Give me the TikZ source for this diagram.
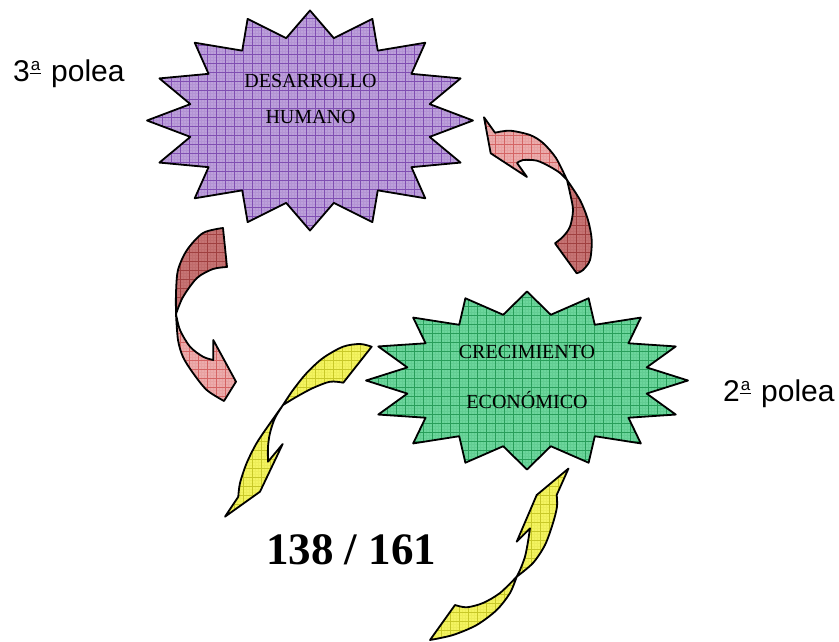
\documentclass[tikz,border=0pt]{standalone}
\usepackage{fontspec}
\setmainfont{Liberation Serif}
\newfontfamily\arialf{Liberation Sans}
\newcommand\ordfem{\makebox[13pt][l]{\raisebox{7.5pt}{\rule{11.5pt}{1.6pt}}\hspace{-11.5pt}\raisebox{10.8pt}{\fontsize{17}{17}\selectfont\makebox[11.5pt]{a}}}}
\definecolor{purplefill}{RGB}{188,160,218}
\definecolor{purplegrid}{RGB}{128,78,178}
\definecolor{greenfill}{RGB}{108,214,156}
\definecolor{greengrid}{RGB}{40,158,90}
\definecolor{yellowfill}{RGB}{244,244,96}
\definecolor{yellowgrid}{RGB}{200,200,40}
\definecolor{reddark}{RGB}{198,116,116}
\definecolor{reddarkgrid}{RGB}{160,64,64}
\definecolor{redlight}{RGB}{236,172,172}
\definecolor{redlightgrid}{RGB}{212,100,100}
\tikzset{
  outline/.style={draw=black, line width=1.8pt, line join=round},
  gridfill/.style 2 args={fill=#1, path picture={
    \draw[#2, line width=0.55pt, step=9pt]
      ([shift={(-9pt,-9pt)}]path picture bounding box.south west) grid
      ([shift={(9pt,9pt)}]path picture bounding box.north east);
    \draw[#2, line width=0.3pt, opacity=0.15, step=3pt]
      ([shift={(-9pt,-9pt)}]path picture bounding box.south west) grid
      ([shift={(9pt,9pt)}]path picture bounding box.north east);
  }},
  startext/.style={font=\fontsize{20}{24}\selectfont, inner sep=0pt, anchor=base},
  polea/.style={font=\arialf\fontsize{30}{34}\selectfont, inner sep=0pt, anchor=base west},
}
\begin{document}
\begin{tikzpicture}[x=1pt,y=-1pt]
\useasboundingbox (0,0) rectangle (839,642);

% Purple star (DESARROLLO HUMANO)
\draw[outline, gridfill={purplefill}{purplegrid}]
  ({310+163*cos(90)},{120.5-110*sin(90)})
  \foreach \i in {0,...,15}{
    -- ({310+122*cos(90-\i*22.5-11.25)},{120.5-84*sin(90-\i*22.5-11.25)})
    -- ({310+163*cos(90-(\i+1)*22.5)},{120.5-110*sin(90-(\i+1)*22.5)})
  } -- cycle;

% Green star (CRECIMIENTO ECONOMICO)
\draw[outline, gridfill={greenfill}{greengrid}]
  ({527+161*cos(90)},{380.5-89*sin(90)})
  \foreach \i in {0,...,15}{
    -- ({527+122*cos(90-\i*22.5-11.25)},{380.5-67*sin(90-\i*22.5-11.25)})
    -- ({527+161*cos(90-(\i+1)*22.5)},{380.5-89*sin(90-(\i+1)*22.5)})
  } -- cycle;

% Left red arrow: back (dark) part
\draw[outline, gridfill={reddark}{reddarkgrid}]
  (223,228) -- plot[smooth] coordinates {(223,228) (203,233) (187,250) (178,270) (176,293) (176,314)}
  -- plot[smooth] coordinates {(176,314) (183,297) (197,278) (213,269) (227,267)}
  -- cycle;
% Left red arrow: front (light) part with head
\draw[outline, gridfill={redlight}{redlightgrid}]
  (176,314) -- plot[smooth] coordinates {(176,314) (180,330) (190,346.7) (203,356.7) (213.3,360)}
  -- (213.3,340) -- (236,381.7) -- (224,401)
  -- plot[smooth] coordinates {(224,401) (206.7,390) (193,373) (183,357) (178,340) (176,314)}
  -- cycle;

% Right red arrow: back (dark) part
\draw[outline, gridfill={reddark}{reddarkgrid}]
  (567,180) -- plot[smooth] coordinates {(567,180) (580,200) (588,220) (591.7,240) (590,260) (583,270) (576.7,273.3)}
  -- (555,243.3)
  -- plot[smooth] coordinates {(555,243.3) (563,236.7) (570,226.7) (573,210) (570,193) (567,180)}
  -- cycle;
% Right red arrow: front (light) part with head
\draw[outline, gridfill={redlight}{redlightgrid}]
  (567,180) -- plot[smooth] coordinates {(567,180) (560,173) (550,166.7) (537,160.7) (523,160) (517,163)}
  -- (527,177) -- (490.7,153.3) -- (484,117.3) -- (495,132.7)
  -- plot[smooth] coordinates {(495,132.7) (510,130.7) (530,135) (543,143) (556,158) (567,180)}
  -- cycle;

% Upper yellow arrow: back part (tail)
\draw[outline, gridfill={yellowfill}{yellowgrid}]
  (371.7,346.7) -- plot[smooth] coordinates {(371.7,346.7) (360,344) (343,346.7) (323,358) (306.7,373) (293,390) (283,405)}
  -- plot[smooth] coordinates {(283,405) (296.7,396.7) (313,388) (330,381.7) (343.3,382.7)}
  -- cycle;
% Upper yellow arrow: front part with head
\draw[outline, gridfill={yellowfill}{yellowgrid}]
  (283,405) -- plot[smooth] coordinates {(283,405) (270,423.3) (256.7,443) (246.7,463) (240,483) (238.3,496.7)}
  -- (225,516.7) -- (260,491.7) -- (282.7,444) -- (268,461.7)
  -- plot[smooth] coordinates {(268,461.7) (268,446.7) (270,433) (275,418) (283,405)}
  -- cycle;

% Lower yellow arrow: back part (tail)
\draw[outline, gridfill={yellowfill}{yellowgrid}]
  (455,605) -- plot[smooth] coordinates {(455,605) (466.7,607.3) (483,603) (500,593) (516.7,576.7)}
  -- plot[smooth] coordinates {(516.7,576.7) (510,593) (496.7,610) (476.7,625) (453,635) (430,640)}
  -- cycle;
% Lower yellow arrow: front part with head
\draw[outline, gridfill={yellowfill}{yellowgrid}]
  (516.7,576.7) -- plot[smooth] coordinates {(516.7,576.7) (520,570) (525,556.7) (528,541.7) (530,528.3)}
  -- (516.7,541.7) -- (536.7,495) -- (568.5,468.5) -- (556.7,495)
  -- plot[smooth] coordinates {(556.7,495) (557,506.7) (553,523) (545,545) (533,563) (516.7,576.7)}
  -- cycle;

% Texts
\node[startext] (des) at (310.5,87.3) {DESARROLLO};
\node[startext] (hum) at (310.5,123.3) {HUMANO};
\node[startext] (cre) at (527,358.3) {CRECIMIENTO};
\node[startext] (eco) at (527,408.3) {ECONÓMICO};
\node[font=\fontsize{45}{50}\selectfont\bfseries, inner sep=0pt, anchor=base] (pag) at (351,564) {138 / 161};
\node[polea] (p3) at (13,81.7) {3\ordfem{} polea};
\node[polea] (p2) at (723,401.7) {2\ordfem{} polea};
\end{tikzpicture}
\end{document}
